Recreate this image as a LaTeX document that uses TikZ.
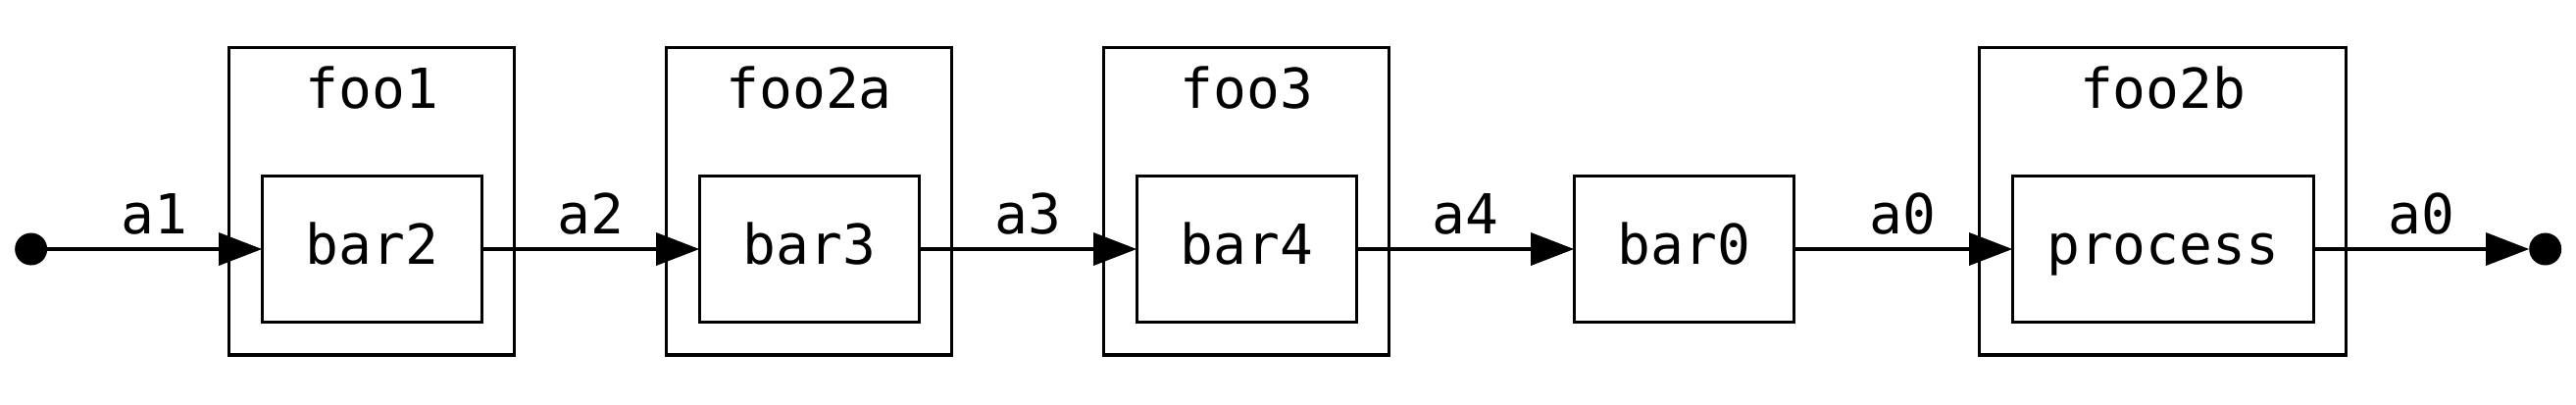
\documentclass[tikz,border=0pt]{standalone}
\usepackage{fontspec}
\setmainfont{DejaVu Sans Mono}
\usepackage{tikz}
\usetikzlibrary{arrows.meta,positioning,fit}
\tikzset{mybox/.style={draw, line width=0.95pt, minimum width=2.24cm, minimum height=1.49cm, inner sep=0pt, outer sep=0pt, text height=0.51cm, text depth=0.2cm},
	mycluster/.style={draw, line width=0.95pt, inner sep=0.335cm},
	mydot/.style={circle, fill, minimum size=0.33cm, inner sep=0pt, outer sep=0pt},
	mytitle/.style={anchor=base, inner sep=0pt},
	mylbl/.style={midway, anchor=base, yshift=0.16cm, inner sep=0pt},
	myedge/.style={line width=0.95pt, -{Triangle[length=0.44cm,width=0.33cm]}}}

\begin{document}
\begin{tikzpicture}[font=\fontsize{16}{19}\selectfont]
			\useasboundingbox (0,-1.58) rectangle (26.27,2.54);
			
			\coordinate (ctop) at (0,1.72);
			\node[mydot] (start) at (0.317,0) {};
			\node[mybox, right=2.19cm of start] (bar2) {bar2};
			\node[mybox, right=2.22cm of bar2] (bar3) {bar3};
			\node[mybox, right=2.22cm of bar3] (bar4) {bar4};
			\node[mybox, right=2.22cm of bar4] (bar0) {bar0};
			\node[mybox, minimum width=3.07cm, right=2.23cm of bar0] (process) {process};
			\node[mydot, right=2.2cm of process] (end) {};
			
			\node[mycluster, fit=(bar2) (bar2.north |- ctop)] (foo1) {};
			\node[mycluster, fit=(bar3) (bar3.north |- ctop)] (foo2a) {};
			\node[mycluster, fit=(bar4) (bar4.north |- ctop)] (foo3) {};
			\node[mycluster, fit=(process) (process.north |- ctop)] (foo2b) {};
			
			\node[mytitle] at ([yshift=-0.64cm]foo1.north) {foo1};
			\node[mytitle] at ([yshift=-0.64cm]foo2a.north) {foo2a};
			\node[mytitle] at ([yshift=-0.64cm]foo3.north) {foo3};
			\node[mytitle] at ([yshift=-0.64cm]foo2b.north) {foo2b};

			\draw[myedge] (start) -- node[mylbl]{a1} (bar2);
			\draw[myedge] (bar2) -- node[mylbl]{a2} (bar3);
			\draw[myedge] (bar3) -- node[mylbl]{a3} (bar4);
			\draw[myedge] (bar4) -- node[mylbl]{a4} (bar0);
			\draw[myedge] (bar0) -- node[mylbl]{a0} (process);
			\draw[myedge] (process) -- node[mylbl]{a0} (end);
			\end{tikzpicture}
\end{document}
